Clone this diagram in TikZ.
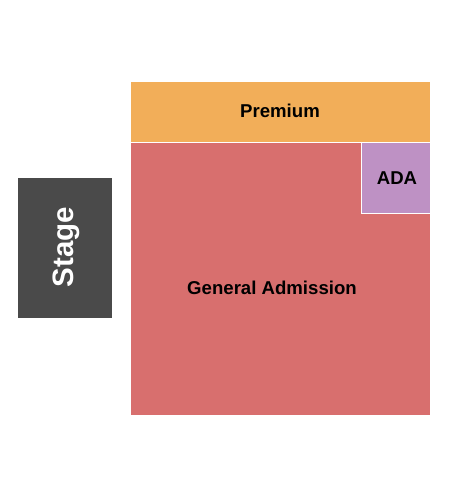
\documentclass[tikz,border=0pt]{standalone}
\usepackage{fontspec}
\setmainfont{Liberation Sans}
\usepackage{tikz}
\definecolor{premium}{HTML}{F2AE59}
\definecolor{general}{HTML}{D86F6E}
\definecolor{ada}{HTML}{BE91C4}
\definecolor{stage}{HTML}{4A4A4A}
\tikzset{
  section/.style={draw=white, line width=0.8pt},
  seclabel/.style={font=\bfseries\fontsize{18.6}{22}\selectfont, text=black}
}

\begin{document}
\begin{tikzpicture}[x=1pt, y=-1pt]
                \useasboundingbox (0,0) rectangle (450,500);
                \fill[stage] (18,178) rectangle (112,318);
                \filldraw[section, fill=premium] (130,81) rectangle (430,142);
                \filldraw[section, fill=general] (130,142) rectangle (430,415);
                \filldraw[section, fill=ada] (361,142) rectangle (430,213);
                \node[rotate=90, text=white, font=\bfseries\fontsize{29.5}{34}\selectfont] (stage) at (66,247) {Stage};
                \node[seclabel] (premium) at (280,111) {Premium};
                \node[seclabel] (ada) at (397,178) {ADA};
                \node[seclabel] (general) at (272,288) {General Admission};
            \end{tikzpicture}
\end{document}
